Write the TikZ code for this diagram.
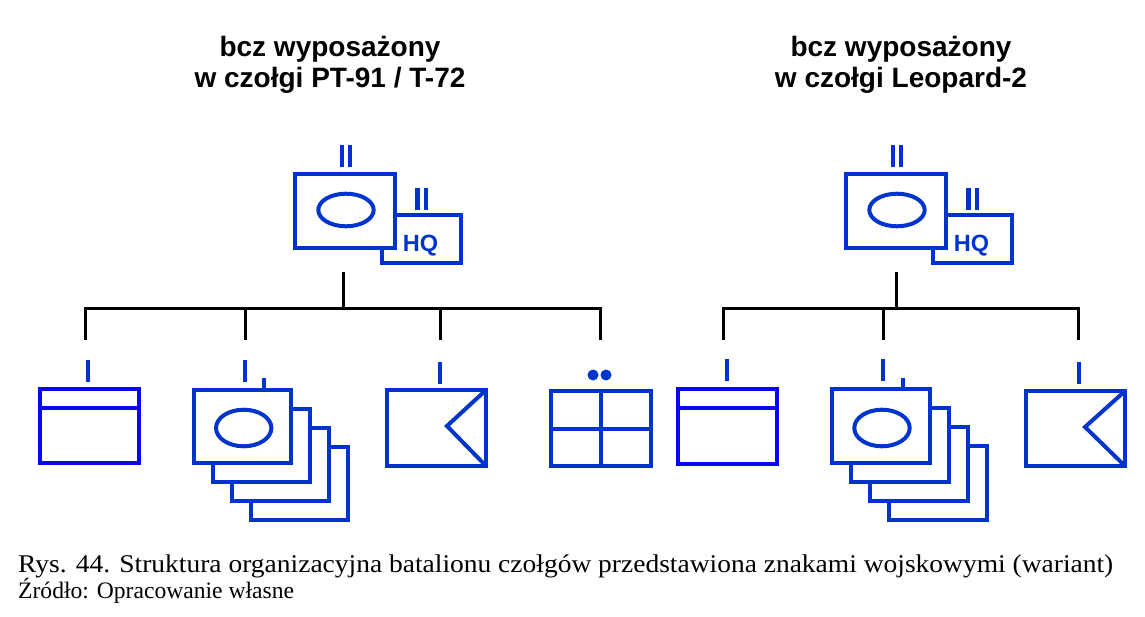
\documentclass[tikz,border=0pt]{standalone}
\usepackage{fontspec}
\setmainfont{Liberation Serif}
\newfontfamily\sansb{Liberation Sans}
\usetikzlibrary{shapes.geometric}
\definecolor{symblue}{RGB}{0,52,204}
\definecolor{brightblue}{RGB}{8,8,240}
\tikzset{
  sym/.style={draw=symblue, line width=4pt, fill=white, rectangle, inner sep=0pt},
  symline/.style={draw=symblue, line width=4pt},
  oval/.style={draw=symblue, line width=4pt, ellipse, inner sep=0pt, fill=white},
  echelon/.style={fill=symblue, rectangle, inner sep=0pt, minimum width=4.5pt, minimum height=22pt},
  dotmark/.style={fill=symblue, circle, inner sep=0pt, minimum size=11pt},
  tree/.style={draw=black, line width=3pt},
  titletext/.style={font=\sansb\bfseries\fontsize{28}{31}\selectfont, anchor=base, inner sep=0pt},
  hqtext/.style={font=\sansb\bfseries\fontsize{23.5}{26}\selectfont, text=symblue, anchor=base, inner sep=0pt},
  captext/.style={font=\fontsize{23.6}{26}\selectfont, anchor=base west, inner sep=0pt},
}
\begin{document}
\begin{tikzpicture}[x=1pt,y=-1pt]
\useasboundingbox (0,0) rectangle (1145,617);

% ---------------- titles ----------------
\node[titletext] (tl1) at (330,57) {bcz wyposażony};
\node[titletext] (tl2) at (330,88) {w czołgi PT-91 / T-72};
\node[titletext] (tr1) at (901,57) {bcz wyposażony};
\node[titletext] (tr2) at (901,88) {w czołgi Leopard-2};

% ---------------- left top symbol ----------------
\node[sym, minimum width=79pt, minimum height=48pt] (hqL) at (421.5,239) {};
\node[sym, minimum width=100pt, minimum height=74pt] (bnL) at (345,211) {};
\node[oval, minimum width=55.4pt, minimum height=32.6pt] (bnLov) at (346,210) {};
\node[hqtext] (hqLt) at (420.5,252) {HQ};
\node[echelon] (bnLe1) at (341.8,156) {};
\node[echelon] (bnLe2) at (350.2,156) {};
\node[echelon] (hqLe1) at (417.5,199) {};
\node[echelon] (hqLe2) at (425.8,199) {};

% ---------------- right top symbol ----------------
\node[sym, minimum width=79pt, minimum height=48pt] (hqR) at (972.5,239) {};
\node[sym, minimum width=100pt, minimum height=74pt] (bnR) at (896,211) {};
\node[oval, minimum width=55.4pt, minimum height=32.6pt] (bnRov) at (897,210) {};
\node[hqtext] (hqRt) at (971.5,252) {HQ};
\node[echelon] (bnRe1) at (892.8,156) {};
\node[echelon] (bnRe2) at (901.2,156) {};
\node[echelon] (hqRe1) at (968.5,199) {};
\node[echelon] (hqRe2) at (976.8,199) {};

% ---------------- tree left ----------------
\coordinate (tL) at (343,272);
\coordinate (jL) at (343,309);
\coordinate (kL1) at (85,340);
\coordinate (kL2) at (245,340);
\coordinate (kL3) at (440,340);
\coordinate (kL4) at (600,340);
\draw[tree] (tL) -- (jL);
\draw[tree] (kL1) |- (jL) -| (kL4);
\draw[tree] (kL2) -- (kL2 |- jL);
\draw[tree] (kL3) -- (kL3 |- jL);

% ---------------- tree right ----------------
\coordinate (tR) at (896,272);
\coordinate (jR) at (896,309);
\coordinate (kR1) at (723,340);
\coordinate (kR2) at (883,340);
\coordinate (kR3) at (1078,340);
\draw[tree] (tR) -- (jR);
\draw[tree] (kR1) |- (jR) -| (kR3);
\draw[tree] (kR2) -- (kR2 |- jR);

% ---------------- left leaves ----------------
% L1
\node[echelon] (L1e) at (88,370.5) {};
\node[sym, draw=brightblue, minimum width=99pt, minimum height=74pt] (L1) at (89.5,426) {};
\draw[line width=4pt, draw=brightblue] (40,408) -- (139,408);
% L2 stacked
\node[echelon] (L2e) at (245,370.5) {};
\node[sym, minimum width=97pt, minimum height=73pt] (L2d) at (299.5,483.5) {};
\node[sym, minimum width=97pt, minimum height=73pt] (L2c) at (280.5,464.5) {};
\node[sym, minimum width=97pt, minimum height=73pt] (L2b) at (261.5,445.5) {};
\node[sym, minimum width=97pt, minimum height=73pt] (L2) at (242.5,426.5) {};
\node[oval, minimum width=55.4pt, minimum height=36.6pt] (L2ov) at (243.7,428) {};
\draw[symline, line width=3.5pt] (264,378) -- (264,390);
% L3
\node[echelon] (L3e) at (440,372.5) {};
\node[sym, minimum width=99pt, minimum height=76pt] (L3) at (436.5,428) {};
\draw[symline] (486,390) -- (447,426) -- (486,466);
% L4
\node[dotmark] (L4d1) at (593,375) {};
\node[dotmark] (L4d2) at (606,375) {};
\node[sym, minimum width=100pt, minimum height=75pt] (L4) at (601,428.5) {};
\draw[symline] (601,391) -- (601,466);
\draw[symline] (551,429) -- (651,429);

% ---------------- right leaves ----------------
% R1
\node[echelon] (R1e) at (727,370) {};
\node[sym, draw=brightblue, minimum width=99pt, minimum height=75pt] (R1) at (727.5,426.5) {};
\draw[line width=4pt, draw=brightblue] (678,408) -- (777,408);
% R2 stacked
\node[echelon] (R2e) at (883,370) {};
\node[sym, minimum width=98pt, minimum height=74pt] (R2d) at (938,483) {};
\node[sym, minimum width=98pt, minimum height=74pt] (R2c) at (919,464) {};
\node[sym, minimum width=98pt, minimum height=74pt] (R2b) at (900,445) {};
\node[sym, minimum width=98pt, minimum height=74pt] (R2) at (881,426) {};
\node[oval, minimum width=55.4pt, minimum height=36.6pt] (R2ov) at (882,428) {};
\draw[symline, line width=3.5pt] (903,378) -- (903,389);
% R3
\node[echelon] (R3e) at (1079,372.5) {};
\node[sym, minimum width=99pt, minimum height=75pt] (R3) at (1075.5,428.5) {};
\draw[symline] (1125,391) -- (1085,427) -- (1125,466);

% ---------------- caption ----------------
\node[captext, font=\fontsize{25.5}{27}\selectfont] (cap1) at (18,572) {\resizebox{1095pt}{\height}{Rys. 44. Struktura organizacyjna batalionu czołgów przedstawiona znakami wojskowymi (wariant)}};
\node[captext] (cap2) at (18,598) {Źródło: Opracowanie własne};
\end{tikzpicture}
\end{document}
